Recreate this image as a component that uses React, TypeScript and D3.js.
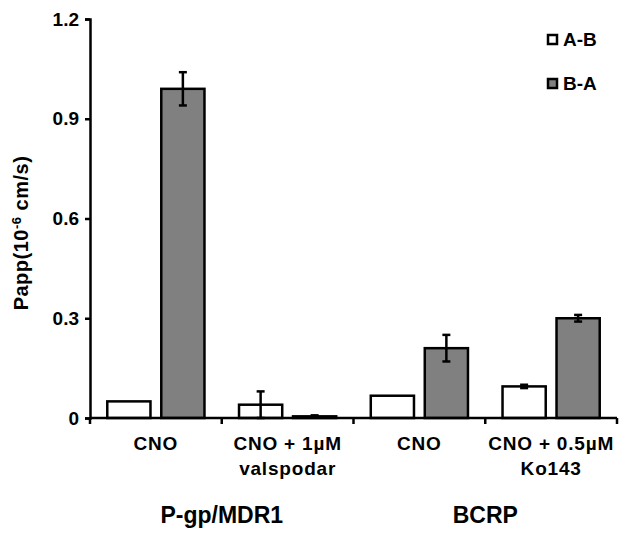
import React, { useEffect, useRef } from "react";
import * as d3 from "d3";

const categories = ["CNO", "CNO + 1µM|valspodar", "CNO ", "CNO + 0.5µM|Ko143"];
const series = ["A-B", "B-A"];
const abValues = [0.05, 0.04, 0.067, 0.095];
const abErrors = [0, 0.04, 0, 0.005];
const baValues = [0.99, 0.005, 0.21, 0.3];
const baErrors = [0.05, 0.003, 0.04, 0.01];
const groups = ["P-gp/MDR1", "BCRP"];
const yTicks = [0, 0.3, 0.6, 0.9, 1.2];
const colors = ["#ffffff", "#808080"];

const W = 629;
const H = 537;
const FONT = "Arial, 'Liberation Sans', sans-serif";

export default function App() {
  const ref = useRef<SVGSVGElement>(null);

  useEffect(() => {
    const svg = d3.select(ref.current);
    svg.selectAll("*").remove();

    const x0 = d3.scaleBand().domain(categories).range([90, 617]).padding(0);
    const x1 = d3.scaleBand().domain(series).range([0, x0.bandwidth()])
      .paddingInner(0.2).paddingOuter(0.32);
    const y = d3.scaleLinear().domain([0, 1.2]).range([418, 19]);

    // bars
    const data = categories.flatMap((c, i) => [
      { c, s: "A-B", v: abValues[i], e: abErrors[i] },
      { c, s: "B-A", v: baValues[i], e: baErrors[i] },
    ]);

    svg.append("g").selectAll("rect").data(data).enter().append("rect")
      .attr("x", d => x0(d.c)! + x1(d.s)!)
      .attr("width", x1.bandwidth())
      .attr("y", d => y(d.v))
      .attr("height", d => y(0) - y(d.v))
      .attr("fill", d => colors[series.indexOf(d.s)])
      .attr("stroke", "#000")
      .attr("stroke-width", 2.5);

    // error bars
    const eb = svg.append("g").selectAll("g").data(data.filter(d => d.e > 0)).enter().append("g");
    const cx = (d: any) => x0(d.c)! + x1(d.s)! + x1.bandwidth() / 2;
    eb.append("line")
      .attr("x1", cx).attr("x2", cx)
      .attr("y1", d => y(d.v + d.e)).attr("y2", d => y(Math.max(0, d.v - d.e)))
      .attr("stroke", "#000").attr("stroke-width", 2.5);
    eb.append("line")
      .attr("x1", d => cx(d) - 4).attr("x2", d => cx(d) + 4)
      .attr("y1", d => y(d.v + d.e)).attr("y2", d => y(d.v + d.e))
      .attr("stroke", "#000").attr("stroke-width", 2.5);
    eb.append("line")
      .attr("x1", d => cx(d) - 4).attr("x2", d => cx(d) + 4)
      .attr("y1", d => y(Math.max(0, d.v - d.e))).attr("y2", d => y(Math.max(0, d.v - d.e)))
      .attr("stroke", "#000").attr("stroke-width", 2.5);

    // y axis
    const yAxis = svg.append("g").attr("transform", "translate(90,0)")
      .call(d3.axisLeft(y).tickValues(yTicks).tickSize(5).tickPadding(6)
        .tickFormat(d => (d === 0 ? "0" : d3.format(".1f")(d as number))));
    yAxis.select(".domain").attr("stroke", "#000").attr("stroke-width", 2.5);
    yAxis.selectAll(".tick line").attr("stroke", "#000").attr("stroke-width", 2.5);
    yAxis.selectAll(".tick text")
      .attr("font-family", FONT).attr("font-weight", "bold").attr("font-size", 19).attr("fill", "#000");

    // x axis
    svg.append("line").attr("x1", 90).attr("x2", 617).attr("y1", y(0)).attr("y2", y(0))
      .attr("stroke", "#000").attr("stroke-width", 2.5);
    const seps = [...categories.map(c => x0(c)!), 617];
    svg.append("g").selectAll("line").data(seps).enter().append("line")
      .attr("x1", d => d).attr("x2", d => d)
      .attr("y1", y(0)).attr("y2", y(0) + 6)
      .attr("stroke", "#000").attr("stroke-width", 2.5);

    // category labels
    const lab = svg.append("g").selectAll("text").data(categories).enter().append("text")
      .attr("x", d => x0(d)! + x0.bandwidth() / 2)
      .attr("y", 450)
      .attr("text-anchor", "middle")
      .attr("font-family", FONT).attr("font-weight", "bold").attr("font-size", 19)
      .attr("letter-spacing", 0.8).attr("fill", "#000");
    lab.each(function (d) {
      const parts = d.trim().split("|");
      const t = d3.select(this);
      parts.forEach((p, i) => {
        t.append("tspan").attr("x", x0(d)! + x0.bandwidth() / 2).attr("dy", i === 0 ? 0 : 25).text(p);
      });
    });

    // group labels
    svg.append("g").selectAll("text").data(groups).enter().append("text")
      .attr("x", (d, i) => x0(categories[i * 2 + 1])!)
      .attr("y", 523)
      .attr("text-anchor", "middle")
      .attr("font-family", FONT).attr("font-weight", "bold").attr("font-size", 23).attr("fill", "#000")
      .text(d => d);

    // y title
    const yt = svg.append("text")
      .attr("transform", "translate(28,233) rotate(-90)")
      .attr("text-anchor", "middle")
      .attr("font-family", FONT).attr("font-weight", "bold").attr("font-size", 20)
      .attr("letter-spacing", 0.5).attr("fill", "#000");
    yt.append("tspan").text("Papp(10");
    yt.append("tspan").attr("baseline-shift", "super").attr("font-size", 13).text("-6");
    yt.append("tspan").text(" cm/s)");

    // legend
    const lg = svg.append("g").selectAll("g").data(series).enter().append("g")
      .attr("transform", (d, i) => `translate(548,${35 + i * 44})`);
    lg.append("rect").attr("width", 9).attr("height", 9)
      .attr("fill", (d, i) => colors[i]).attr("stroke", "#000").attr("stroke-width", 2.5);
    lg.append("text").attr("x", 15).attr("y", 11)
      .attr("font-family", FONT).attr("font-weight", "bold").attr("font-size", 19).attr("fill", "#000")
      .text(d => d);
  }, []);

  return <svg ref={ref} width={W} height={H} style={{ position: "absolute", left: 0, top: 0, background: "#fff" }} />;
}
